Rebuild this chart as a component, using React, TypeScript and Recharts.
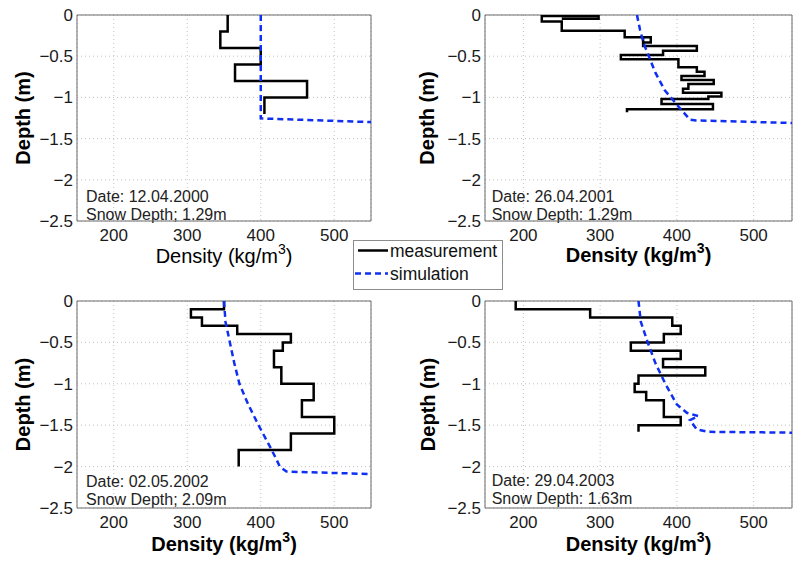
import React from 'react';
import {
  LineChart,
  Line,
  CartesianGrid,
  XAxis,
  YAxis,
  Legend,
  ReferenceArea,
} from 'recharts';

const xTicks = [200, 300, 400, 500];
const yTicks = [0, -0.5, -1, -1.5, -2, -2.5];

// 12.04.2000 - layered profile
const layerDepth2000 = [0, -0.2, -0.4, -0.6, -0.8, -1.0, -1.2];
const layerDensity2000 = [355, 345, 400, 365, 463, 405];
const simDensity2000 = [400, 400, 550];
const simDepth2000 = [0, -1.255, -1.3];

// 26.04.2001 - traced outline (overlapping layers)
const measDensity2001 = [
  250, 298, 298, 224, 224, 250, 250, 332, 332, 366, 366, 356, 356, 356, 426, 426, 382, 382,
  327, 327, 402, 402, 426, 426, 436, 436, 406, 406, 448, 448, 415, 415, 408, 408, 458, 458,
  441, 441, 380, 380, 447, 447, 335, 335,
];
const measDepth2001 = [
  -0.045, -0.045, -0.012, -0.012, -0.078, -0.078, -0.19, -0.19, -0.27, -0.27, -0.335, -0.335,
  -0.27, -0.375, -0.375, -0.433, -0.433, -0.485, -0.485, -0.538, -0.538, -0.635, -0.635,
  -0.688, -0.688, -0.74, -0.74, -0.789, -0.789, -0.837, -0.837, -0.894, -0.894, -0.943,
  -0.943, -0.99, -0.99, -1.02, -1.02, -1.08, -1.08, -1.145, -1.145, -1.18,
];
const simDensity2001 = [348, 352, 357, 363, 372, 384, 402, 417, 425, 550];
const simDepth2001 = [0, -0.18, -0.35, -0.49, -0.7, -0.91, -1.11, -1.27, -1.28, -1.31];

// 02.05.2002
const layerDepth2002 = [0, -0.1, -0.2, -0.3, -0.4, -0.5, -0.6, -0.8, -1.0, -1.2, -1.4, -1.6, -1.8, -2.0];
const layerDensity2002 = [350, 305, 320, 368, 441, 430, 418, 428, 472, 456, 500, 441, 370];
const simDensity2002 = [350, 352, 358, 364, 371, 383, 397, 415, 426, 435, 550];
const simDepth2002 = [0, -0.25, -0.5, -0.75, -1.0, -1.25, -1.5, -1.8, -2.0, -2.06, -2.09];

// 29.04.2003
const layerDepth2003 = [0, -0.1, -0.2, -0.3, -0.4, -0.5, -0.6, -0.7, -0.8, -0.9, -1.0, -1.1, -1.2, -1.4, -1.5, -1.58];
const layerDensity2003 = [190, 287, 394, 405, 383, 340, 405, 382, 437, 350, 345, 360, 383, 405, 350];
const simDensity2003 = [350, 353, 362, 372, 385, 400, 413, 428, 417, 426, 441, 550];
const simDepth2003 = [0, -0.25, -0.5, -0.75, -1.0, -1.25, -1.35, -1.39, -1.44, -1.55, -1.58, -1.59];

type Pt = { density: number; depth: number };

const zip = (dens: number[], dep: number[]): Pt[] =>
  dens.map((d, i) => ({ density: d, depth: dep[i] }));

// turn layer boundaries + densities into a step profile
const steps = (bounds: number[], dens: number[]): Pt[] => {
  const out: Pt[] = [];
  dens.forEach((d, i) => {
    out.push({ density: d, depth: bounds[i] });
    out.push({ density: d, depth: bounds[i + 1] });
  });
  return out;
};

const FONT = '"Liberation Sans", Arial, Helvetica, sans-serif';
const BLUE = '#0f30f2';
const fmt = (v: number) => String(v).replace('-', '\u2212');

function LegendBox({ payload }: any) {
  const items = payload || [];
  return (
    <svg width={150} height={50} style={{ display: 'block' }}>
      <rect x={0.5} y={0.5} width={149} height={49} fill="#fff" stroke="#8c8c8c" />
      {items.map((entry: any, i: number) => {
        const y = 10.5 + i * 23;
        const dash = entry.payload?.strokeDasharray;
        return (
          <g key={entry.value}>
            <line
              x1={dash ? 2 : 5}
              x2={35}
              y1={y}
              y2={y}
              stroke={entry.color}
              strokeWidth={2.5}
              strokeDasharray={dash}
            />
            <text x={37} y={y} dominantBaseline="central" fontSize={17.5} fontFamily={FONT} fill="#111">
              {entry.value}
            </text>
          </g>
        );
      })}
    </svg>
  );
}

interface PanelProps {
  left: number;
  top: number;
  width: number;
  height: number;
  margin: { top: number; right: number; bottom: number; left: number };
  meas: Pt[];
  sim: Pt[];
  date: string;
  snow: string;
  boldX: boolean;
  yTitleX: number;
  xTitleY: number;
  noteX: number;
  noteY: number;
  legend?: boolean;
}

function Panel(p: PanelProps) {
  const plotL = p.margin.left + 45;
  const plotR = p.width - p.margin.right;
  const plotT = p.margin.top;
  const plotB = p.height - p.margin.bottom - 30;
  const cx = (plotL + plotR) / 2;
  const cy = (plotT + plotB) / 2;
  return (
    <div style={{ position: 'absolute', left: p.left, top: p.top, zIndex: p.legend ? 2 : 1 }}>
      <LineChart width={p.width} height={p.height} margin={p.margin}>
        <CartesianGrid stroke="#c2c2c2" strokeDasharray="1 3" />
        <XAxis
          type="number"
          dataKey="density"
          domain={[150, 550]}
          ticks={xTicks}
          allowDataOverflow
          height={30}
          tickLine={false}
          axisLine={false}
          tickSize={0}
          tickMargin={8}
          tick={{ fontSize: 17, fill: '#1a1a1a', fontFamily: FONT }}
        />
        <YAxis
          type="number"
          domain={[-2.5, 0]}
          ticks={yTicks}
          allowDataOverflow
          width={45}
          tickLine={false}
          axisLine={false}
          tickSize={0}
          tickMargin={4}
          tickFormatter={fmt}
          tick={{ fontSize: 17, fill: '#1a1a1a', fontFamily: FONT }}
        />
        <ReferenceArea x1={150} x2={550} y1={-2.5} y2={0} fill="none" stroke="#6a6a6a" strokeWidth={1} />
        <Line
          data={p.meas}
          dataKey="depth"
          name="measurement"
          type="linear"
          stroke="#000"
          strokeWidth={2.5}
          dot={false}
          legendType="line"
          isAnimationActive={false}
        />
        <Line
          data={p.sim}
          dataKey="depth"
          name="simulation"
          type="linear"
          stroke={BLUE}
          strokeWidth={2.5}
          strokeDasharray="6 4"
          dot={false}
          legendType="line"
          isAnimationActive={false}
        />
        {p.legend && (
          <Legend
            layout="horizontal"
            verticalAlign="middle"
            align="center"
            content={<LegendBox />}
            wrapperStyle={{ left: 353, top: 240, width: 150, height: 50 }}
          />
        )}
        <text
          x={p.yTitleX}
          y={cy}
          transform={`rotate(-90 ${p.yTitleX} ${cy})`}
          textAnchor="middle"
          dominantBaseline="central"
          fontSize={20}
          fontWeight="bold"
          fontFamily={FONT}
          fill="#000"
        >
          Depth (m)
        </text>
        <text
          x={cx}
          y={p.xTitleY}
          textAnchor="middle"
          fontSize={20}
          fontWeight={p.boldX ? 'bold' : 'normal'}
          fontFamily={FONT}
          fill="#000"
        >
          <tspan>Density (kg/m</tspan>
          <tspan dy={-9} fontSize={14}>3</tspan>
          <tspan dy={9}>)</tspan>
        </text>
        <text x={p.noteX} y={p.noteY} fontSize={16} fontFamily={FONT} fill="#222">
          {p.date}
        </text>
        <text x={p.noteX} y={p.noteY + 18} fontSize={16} fontFamily={FONT} fill="#222">
          {p.snow}
        </text>
      </LineChart>
    </div>
  );
}

export default function App() {
  return (
    <div
      style={{
        position: 'absolute',
        left: 0,
        top: 0,
        width: 795,
        height: 562,
        background: '#fff',
        fontFamily: FONT,
      }}
    >
      <Panel
        left={0}
        top={0}
        width={400}
        height={280}
        margin={{ top: 15, right: 29, bottom: 29, left: 32 }}
        meas={steps(layerDepth2000, layerDensity2000)}
        sim={zip(simDensity2000, simDepth2000)}
        date="Date: 12.04.2000"
        snow="Snow Depth; 1.29m"
        boldX={false}
        yTitleX={23}
        xTitleY={263}
        noteX={86}
        noteY={201.5}
        legend
      />
      <Panel
        left={400}
        top={0}
        width={395}
        height={280}
        margin={{ top: 15, right: 3, bottom: 29, left: 40 }}
        meas={zip(measDensity2001, measDepth2001)}
        sim={zip(simDensity2001, simDepth2001)}
        date="Date: 26.04.2001"
        snow="Snow Depth: 1.29m"
        boldX
        yTitleX={27}
        xTitleY={262}
        noteX={91.7}
        noteY={201.5}
      />
      <Panel
        left={0}
        top={280}
        width={400}
        height={282}
        margin={{ top: 21, right: 29, bottom: 24, left: 32 }}
        meas={steps(layerDepth2002, layerDensity2002)}
        sim={zip(simDensity2002, simDepth2002)}
        date="Date: 02.05.2002"
        snow="Snow Depth; 2.09m"
        boldX
        yTitleX={23}
        xTitleY={271}
        noteX={86}
        noteY={206.5}
      />
      <Panel
        left={400}
        top={280}
        width={395}
        height={282}
        margin={{ top: 21, right: 3, bottom: 24, left: 40 }}
        meas={steps(layerDepth2003, layerDensity2003)}
        sim={zip(simDensity2003, simDepth2003)}
        date="Date: 29.04.2003"
        snow="Snow Depth: 1.63m"
        boldX
        yTitleX={28}
        xTitleY={271}
        noteX={91.7}
        noteY={206}
      />
    </div>
  );
}
